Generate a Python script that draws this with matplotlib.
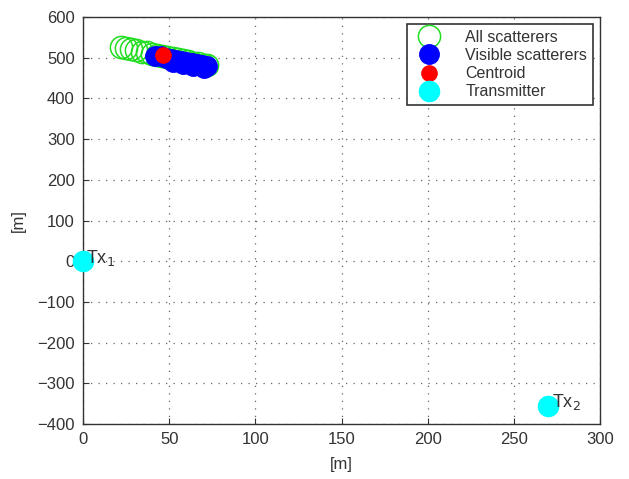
import numpy as np
import matplotlib.pyplot as plt

plt.rcParams['font.family'] = ['Liberation Sans', 'DejaVu Sans']

# scatterer positions [m]
all_x = [22, 25, 28, 31, 34, 37, 40, 43, 46, 49, 52, 55, 58, 61, 64, 67, 70, 72]
all_y = [526, 524, 521, 518, 515, 513, 510, 507, 505, 502, 499, 496, 494, 491, 488, 486, 483, 481]
vis_x = [42, 45, 48, 51, 54, 57, 60, 63, 66, 69, 72, 52, 58, 64, 70]
vis_y = [505, 503, 500, 498, 495, 492, 490, 487, 484, 482, 479, 490, 484, 480, 475]
centroid = (46.5, 507)
tx_x = [0, 270]
tx_y = [0, -355]
tx_names = ['Tx$_1$', 'Tx$_2$']

fig = plt.figure(figsize=(6.29, 4.79), dpi=100)
ax = fig.add_axes([0.132, 0.1148, 0.822, 0.8497])

ax.plot(all_x, all_y, 'o', mfc='none', mec='#22dd22', ms=16, mew=1.1, label='All scatterers')
ax.plot(vis_x, vis_y, 'o', color='blue', ms=14, label='Visible scatterers')
ax.plot(*centroid, 'o', color='red', ms=11, label='Centroid')
ax.plot(tx_x, tx_y, 'o', color='cyan', ms=14.5, label='Transmitter', clip_on=False, zorder=5)
for x, y, s in zip(tx_x, tx_y, tx_names):
    ax.text(x + 2, y + 8, s, fontsize=13, ha='left', va='center', color='#333333', zorder=6)

ax.set_xlim(0, 300)
ax.set_ylim(-400, 600)
ax.set_xticks(np.arange(0, 301, 50))
ax.set_yticks(np.arange(-400, 601, 100))
ax.grid(True, linestyle=(0, (1, 5)), color='#666666', linewidth=0.9)
ax.tick_params(direction='in', labelsize=12, colors='#333333', length=4, pad=6)
for s in ax.spines.values():
    s.set_color('#333333')
    s.set_linewidth(1.0)
ax.set_xlabel('[m]', fontsize=12, color='#333333', labelpad=7)
ax.set_ylabel('[m]', fontsize=12, color='#333333', labelpad=8)

leg = ax.legend(loc='upper right', fontsize=11.5, fancybox=False, framealpha=1,
                edgecolor='#333333', borderpad=0.35, labelspacing=0.2, handletextpad=1.3,
                borderaxespad=0.45)
leg.get_frame().set_linewidth(1.2)
for t in leg.get_texts():
    t.set_color('#333333')

fig.savefig('out.png', dpi=100)
